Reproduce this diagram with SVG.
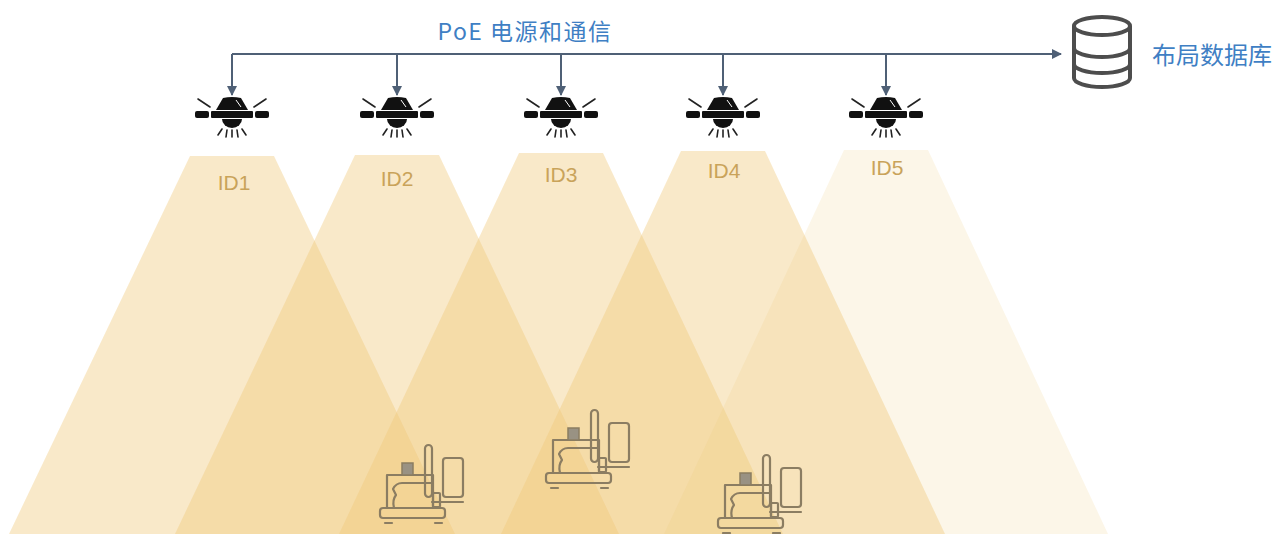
<svg xmlns="http://www.w3.org/2000/svg" width="1274" height="534" viewBox="0 0 1274 534">
  <style>
    .beam { fill: #f0c878; }
    .id { font-family: "Liberation Sans", Arial, sans-serif; font-size: 21px; fill: #c9a35a; text-anchor: middle; }
    .blue { font-family: "Noto Sans CJK SC", "Noto Sans", sans-serif; fill: #3f7fc4; }
    .wire { fill: none; stroke: #4f6076; stroke-width: 2; }
    .mach { fill: none; stroke: #8b7d62; stroke-width: 2.2; stroke-linejoin: round; stroke-linecap: round; }
    .db { fill: #fff; stroke: #4d4d4d; stroke-width: 4; }
  </style>
  <defs>
    <marker id="arrow" viewBox="0 0 10 10" refX="9" refY="5" markerWidth="5" markerHeight="5" orient="auto" markerUnits="strokeWidth">
      <path d="M0,0 L10,5 L0,10 Z" fill="#4f6076"/>
    </marker>
    <!-- ceiling lamp, origin at top centre of the dome -->
    <g id="lamp">
      <path d="M-9,1 Q0,-1 9,1 L16,13 H-16 Z" fill="#111"/>
      <path d="M4,3 L9,10" stroke="#fff" stroke-width="1"/>
      <rect x="-37" y="14" width="14" height="7" rx="2" fill="#111"/>
      <rect x="-21" y="14" width="42" height="7" rx="1" fill="#111"/>
      <rect x="23" y="14" width="14" height="7" rx="2" fill="#111"/>
      <path d="M-10,22 A10,9 0 0 0 10,22 Z" fill="#111"/>
      <g stroke="#222" stroke-width="1.6" stroke-linecap="round">
        <line x1="-10" y1="32" x2="-14" y2="38"/>
        <line x1="-5" y1="33" x2="-6" y2="40"/>
        <line x1="0" y1="33" x2="0" y2="40"/>
        <line x1="5" y1="33" x2="6" y2="40"/>
        <line x1="10" y1="32" x2="14" y2="38"/>
        <line x1="-34" y1="2" x2="-22" y2="10"/>
        <line x1="34" y1="2" x2="22" y2="10"/>
      </g>
    </g>
    <!-- work station, origin at top-left of its bounding box -->
    <g id="machine">
      <rect class="mach" x="0" y="63" width="65" height="10" rx="3"/>
      <line class="mach" x1="5" y1="78" x2="12" y2="78"/>
      <line class="mach" x1="55" y1="78" x2="62" y2="78"/>
      <path class="mach" d="M7,63 V30 H53 V63"/>
      <path class="mach" d="M14,63 Q12,55 16,50 L13,44 Q16,38 22,38 H53"/>
      <rect class="mach" x="53" y="48" width="7" height="14" rx="1"/>
      <rect x="22" y="18" width="11" height="12" fill="#999283" stroke="#8b7d62" stroke-width="1.5"/>
      <rect class="mach" x="45" y="0" width="7" height="52" rx="3.5"/>
      <rect class="mach" x="63" y="13" width="20" height="39" rx="3"/>
      <line class="mach" x1="52" y1="57" x2="83" y2="57"/>
    </g>
  </defs>

  <rect width="1274" height="534" fill="#fff"/>

  <!-- light cones -->
  <g id="beams">
    <polygon class="beam" opacity="0.4" points="190,156 274,156 455,534 9,534"/>
    <polygon class="beam" opacity="0.4" points="355,155 439,155 619,534 175,534"/>
    <polygon class="beam" opacity="0.4" points="519,153 603,153 783,534 339,534"/>
    <polygon class="beam" opacity="0.4" points="681,151 765,151 945,534 501,534"/>
    <polygon class="beam" opacity="0.17" points="844,150 928,150 1108,534 664,534"/>
  </g>

  <!-- bus and drops -->
  <g id="connectors">
    <path class="wire" d="M232,54 H1061" marker-end="url(#arrow)"/>
    <path class="wire" d="M232,54 V95" marker-end="url(#arrow)"/>
    <path class="wire" d="M397,54 V95" marker-end="url(#arrow)"/>
    <path class="wire" d="M561,54 V95" marker-end="url(#arrow)"/>
    <path class="wire" d="M723,54 V95" marker-end="url(#arrow)"/>
    <path class="wire" d="M886,54 V95" marker-end="url(#arrow)"/>
  </g>

  <g id="label-poe">
    <text class="blue" x="525" y="40" font-size="23" letter-spacing="1.5" text-anchor="middle">PoE 电源和通信</text>
  </g>

  <g id="database">
    <path class="db" d="M1074,26 V78 A28,9 0 0 0 1130,78 V26"/>
    <ellipse class="db" cx="1102" cy="26" rx="28" ry="9"/>
    <path class="db" fill="none" d="M1074,48 A28,9 0 0 0 1130,48"/>
    <path class="db" fill="none" d="M1074,64 A28,9 0 0 0 1130,64"/>
    <text class="blue" x="1152" y="64" font-size="24">布局数据库</text>
  </g>

  <g id="lamp1"><use href="#lamp" x="232" y="97"/><text class="id" x="234" y="190">ID1</text></g>
  <g id="lamp2"><use href="#lamp" x="397" y="97"/><text class="id" x="397" y="186">ID2</text></g>
  <g id="lamp3"><use href="#lamp" x="561" y="97"/><text class="id" x="561" y="182">ID3</text></g>
  <g id="lamp4"><use href="#lamp" x="723" y="97"/><text class="id" x="724" y="178">ID4</text></g>
  <g id="lamp5"><use href="#lamp" x="886" y="97"/><text class="id" x="887" y="175">ID5</text></g>

  <g id="station1"><use href="#machine" x="380" y="445"/></g>
  <g id="station2"><use href="#machine" x="546" y="410"/></g>
  <g id="station3"><use href="#machine" x="718" y="455"/></g>
</svg>
